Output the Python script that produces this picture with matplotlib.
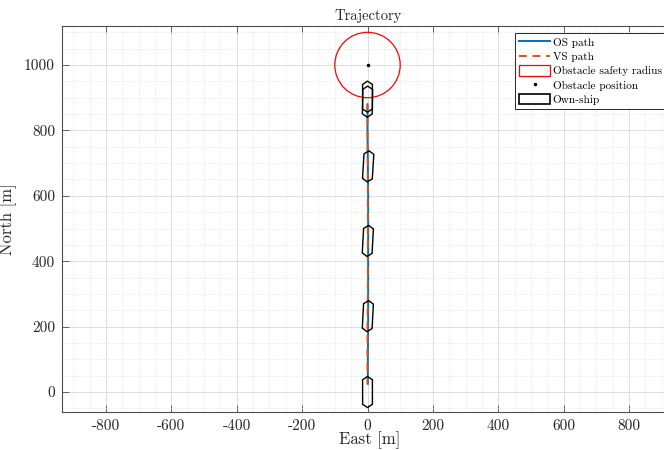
import numpy as np
import matplotlib
matplotlib.use("Agg")
import matplotlib.pyplot as plt
from matplotlib.patches import Circle, Polygon, Patch
from matplotlib.lines import Line2D
from matplotlib.ticker import MultipleLocator, FuncFormatter

plt.rcParams["font.family"] = ["cmr10", "DejaVu Serif"]
plt.rcParams["mathtext.fontset"] = "cm"
plt.rcParams["axes.unicode_minus"] = False
plt.rcParams["axes.formatter.use_mathtext"] = False

# Own-ship (OS) and virtual-ship (VS) tracks, [m]
os_north = [25, 100, 200, 300, 400, 500, 600, 700, 800, 880]
os_east = [1, 1, 2, 2, 2, 2, 2, 1, 0, 0]
vs_north = [25, 100, 200, 300, 400, 500, 600, 700, 800, 880]
vs_east = [0, 0, 0, 1, 1, 1, 1, 1, 0, 0]

# Obstacle
obs_north = 1000.0
obs_east = 0.0
obs_radius = 100.0

# Own-ship outlines along the track: position [m] and heading [deg]
ship_north = [0, 232, 462, 690, 888, 903]
ship_east = [0, 1, 1, 2, 0, 0]
ship_heading = [0, 3, 3, 3.5, 1, 0]
ship_length = 95.0
ship_beam = 30.0
ship_taper = 10.0

x_ticks = [-800, -600, -400, -200, 0, 200, 400, 600, 800]
y_ticks = [0, 200, 400, 600, 800, 1000]

W, H = 664, 450
fig = plt.figure(figsize=(W / 100, H / 100), dpi=100)
ax_l, ax_r, ax_t, ax_b = 62, 678, 26, 412
ax = fig.add_axes([ax_l / W, 1 - ax_b / H, (ax_r - ax_l) / W, (ax_b - ax_t) / H])

scale = 0.327  # px per metre
ax.set_xlim(-(367.5 - ax_l) / scale, (ax_r - 367.5) / scale)
ax.set_ylim(-(ax_b - 392) / scale, (392 - ax_t) / scale)

# grid
ax.set_axisbelow(True)
ax.xaxis.set_major_locator(MultipleLocator(200))
ax.yaxis.set_major_locator(MultipleLocator(200))
ax.xaxis.set_minor_locator(MultipleLocator(50))
ax.yaxis.set_minor_locator(MultipleLocator(50))
ax.grid(True, which="major", color="#dedede", lw=0.7, ls="-")
ax.grid(True, which="minor", color="#e0e0e0", lw=0.6, ls=(0, (1, 1.5)))

blue = (0, 0.447, 0.741)
orange = (0.85, 0.325, 0.098)

ax.plot(os_east, os_north, color=blue, lw=1.4, zorder=3)
ax.plot(vs_east, vs_north, color=orange, lw=1.4, ls=(0, (4, 3)), zorder=4)

ax.add_patch(Circle((obs_east, obs_north), obs_radius, fill=False,
                    edgecolor="red", lw=0.9, zorder=5))
ax.plot([obs_east], [obs_north], "k.", ms=3, zorder=6)

hx = [ship_length / 2, ship_length / 2 - ship_taper, -ship_length / 2 + ship_taper,
      -ship_length / 2, -ship_length / 2 + ship_taper, ship_length / 2 - ship_taper]
hy = [0, ship_beam / 2, ship_beam / 2, 0, -ship_beam / 2, -ship_beam / 2]
for n, e, psi in zip(ship_north, ship_east, ship_heading):
    p = np.deg2rad(psi)
    pts = []
    for fx, sy in zip(hx, hy):
        nn = n + fx * np.cos(p) - sy * np.sin(p)
        ee = e + fx * np.sin(p) + sy * np.cos(p)
        pts.append((ee, nn))
    ax.add_patch(Polygon(pts, closed=True, fill=False, edgecolor="black",
                         lw=1.0, zorder=7))

ax.set_xticks(x_ticks)
ax.set_yticks(y_ticks)
fmt = FuncFormatter(lambda v, pos: "%d" % v)
ax.xaxis.set_major_formatter(fmt)
ax.yaxis.set_major_formatter(fmt)

spine_col = "#4d4d4d"
for s in ax.spines.values():
    s.set_color(spine_col)
    s.set_linewidth(0.8)
ax.tick_params(which="major", direction="in", length=5, width=0.6, color=spine_col,
               top=True, right=True, labelsize=11, labelcolor="#262626", pad=5)
ax.tick_params(which="minor", length=0)

ax.set_xlabel("East [m]", fontsize=12, color="#262626", labelpad=-1)
ax.set_ylabel("North [m]", fontsize=12, color="#262626", labelpad=5)
ax.set_title("Trajectory", fontsize=10.5, color="#262626", pad=4,
             x=(368 - ax_l) / (ax_r - ax_l))

handles = [
    Line2D([], [], color=blue, lw=1.4),
    Line2D([], [], color=orange, lw=1.4, ls=(0, (4, 3))),
    Patch(facecolor="white", edgecolor="red", lw=0.9),
    Line2D([], [], color="black", marker=".", ms=3, ls="none"),
    Patch(facecolor="white", edgecolor="black", lw=1.2),
]
labels = ["OS path", "VS path", "Obstacle safety radius", "Obstacle position", "Own-ship"]
leg = fig.legend(handles, labels, loc="upper left",
                 bbox_to_anchor=(515 / W, 1 - 33 / H), fontsize=8.1,
                 frameon=True, fancybox=False, framealpha=1, edgecolor="#262626",
                 handlelength=2.8, handleheight=1.05, handletextpad=0.2,
                 labelspacing=0.28, borderpad=0.35, borderaxespad=0)
leg.get_frame().set_linewidth(0.7)

fig.savefig("out.png", dpi=100)
